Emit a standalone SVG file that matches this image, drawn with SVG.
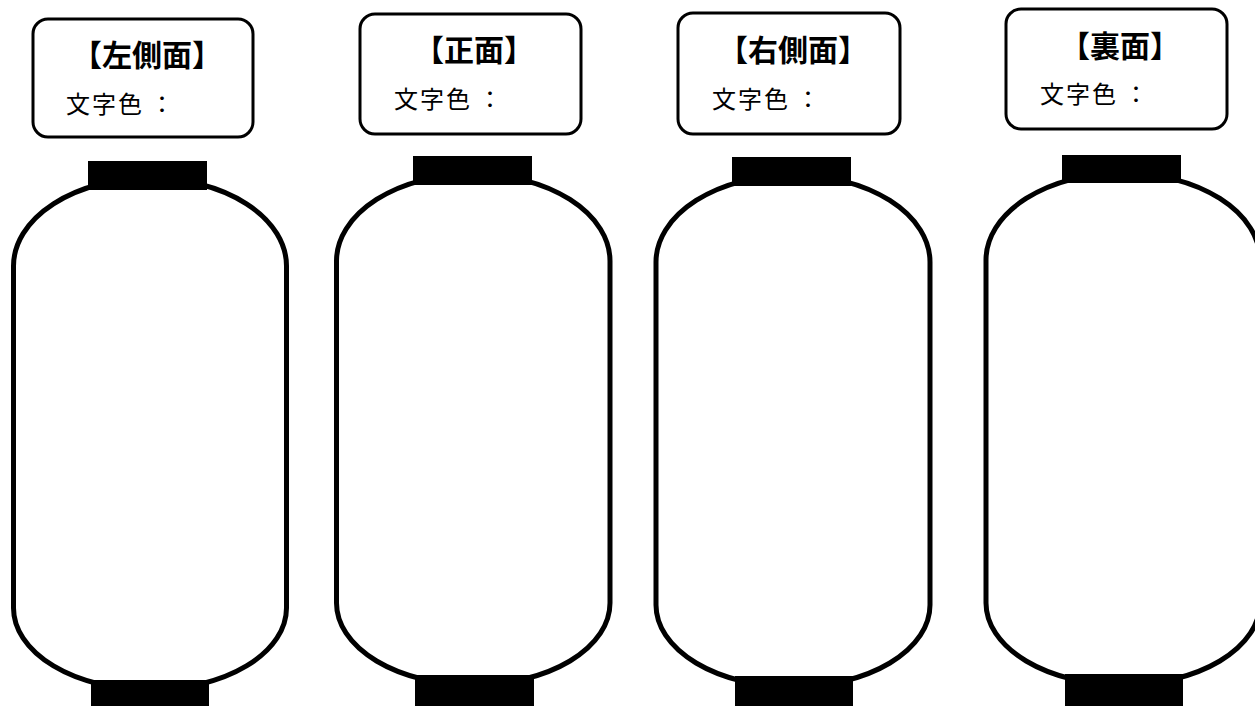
<svg xmlns="http://www.w3.org/2000/svg" width="1255" height="706" viewBox="0 0 1255 706">
<style>
.box{fill:#fff;stroke:#000;stroke-width:3}
.body{fill:#fff;stroke:#000;stroke-width:5}
.cap{fill:#000}
.title{font-family:"Noto Sans CJK JP","Noto Sans CJK SC",sans-serif;font-weight:bold;font-size:30px;text-anchor:middle;fill:#000}
.sub{font-family:"Noto Sans CJK JP","Noto Sans CJK SC",sans-serif;font-size:24px;letter-spacing:2px;fill:#000}
</style>
<rect width="1255" height="706" fill="#fff"/>
<g id="left-side">
  <rect class="box" x="33" y="19" width="220" height="118" rx="15"/>
  <text class="title" x="147" y="66">【左側面】</text>
  <text class="sub" x="66" y="113">文字色<tspan dx="6">：</tspan></text>
  <path class="body" d="M13.5,266 A136.5,88 0 0 1 286.5,266 L286.5,608 A136.5,82 0 0 1 13.5,608 Z"/>
  <rect class="cap" x="88" y="161" width="119" height="29"/>
  <rect class="cap" x="91" y="680" width="118" height="30"/>
</g>
<g id="front">
  <rect class="box" x="360" y="14" width="221" height="120" rx="15"/>
  <text class="title" x="474" y="61">【正面】</text>
  <text class="sub" x="394" y="108">文字色<tspan dx="6">：</tspan></text>
  <path class="body" d="M336.5,261 A136.75,87 0 0 1 610,261 L610,603 A136.75,82 0 0 1 336.5,603 Z"/>
  <rect class="cap" x="413" y="156" width="119" height="29"/>
  <rect class="cap" x="415" y="675" width="119" height="35"/>
</g>
<g id="right-side">
  <rect class="box" x="678" y="13" width="222" height="121" rx="15"/>
  <text class="title" x="793" y="61">【右側面】</text>
  <text class="sub" x="712" y="108">文字色<tspan dx="6">：</tspan></text>
  <path class="body" d="M656,262 A137,87 0 0 1 930,262 L930,605 A137,82 0 0 1 656,605 Z"/>
  <rect class="cap" x="732" y="157" width="119" height="29"/>
  <rect class="cap" x="735" y="676" width="118" height="34"/>
</g>
<g id="back">
  <rect class="box" x="1006" y="9" width="221" height="120" rx="15"/>
  <text class="title" x="1120" y="57">【裏面】</text>
  <text class="sub" x="1040" y="103">文字色<tspan dx="6">：</tspan></text>
  <path class="body" d="M986,260 A137,87 0 0 1 1260,260 L1260,603 A137,82 0 0 1 986,603 Z"/>
  <rect class="cap" x="1062" y="155" width="119" height="28"/>
  <rect class="cap" x="1065" y="674" width="118" height="36"/>
</g>
</svg>
